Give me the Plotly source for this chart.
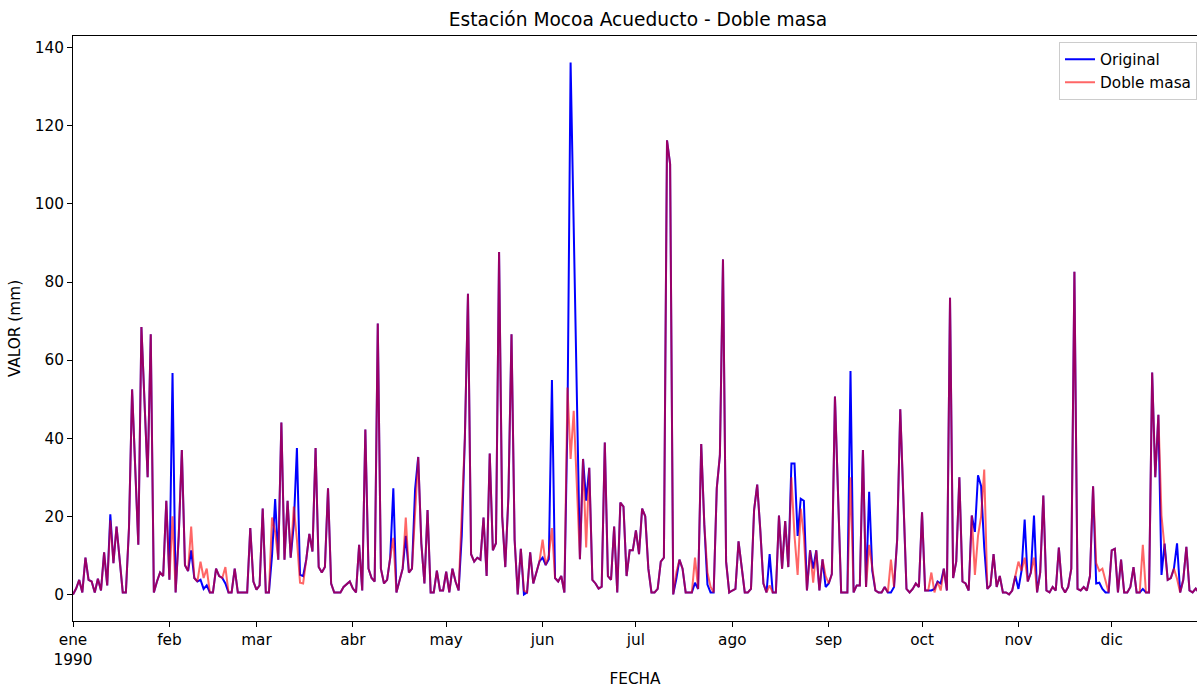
import pandas as pd
import plotly.graph_objects as go

fechas = pd.date_range("1990-01-01", periods=365, freq="D")

original = [
    # ene
    0, 1.5, 3.7, 0.5, 9.4, 3.7, 3.3, 0.5, 4, 1, 10.8, 2.3, 20.5, 8, 17.4, 9, 0.5, 0.5, 17, 52.5,
    30, 12.7, 68.5, 50, 30, 66.6, 0.5, 3.3, 5.6, 4.7, 24,
    # feb
    3.75, 56.7, 0.5, 15, 37, 7.5, 6, 11.3, 4.2, 3.3, 3.75, 1.4, 2.3, 0.5, 0.5, 6.6, 4.7, 4.2, 2.8, 0.5,
    0.5, 6.6, 0.5, 0.5, 0.5, 0.5, 17, 3.3,
    # mar
    1.2, 2.3, 22, 0.5, 0.5, 10, 24.4, 8.9, 44, 8.9, 24, 9.4, 18, 37.5, 5, 4.7, 8.9, 15.5, 11, 37.5,
    7, 5.6, 7, 27.2, 2.8, 0.5, 0.5, 0.5, 1.9, 2.5, 3.3,
    # abr
    1.5, 0.5, 12.7, 1, 42.2, 6.6, 4.2, 3.3, 69.4, 6.6, 2.8, 3.75, 9.4, 27.2, 0.5, 3.75, 6.6, 15, 5.6, 6.6,
    27, 35.2, 13.1, 2.8, 21.6, 0.5, 0.5, 6.1, 1, 1,
    # may
    5.8, 0.5, 6.6, 3.3, 1, 15, 40, 77, 10.3, 8.4, 9.4, 8.9, 19.7, 4.7, 36.1, 11.3, 13.1, 87.7, 20, 7,
    25, 66.6, 14, 0, 11.7, 0, 0.5, 10.8, 2.8, 5.6, 8.5,
    # jun
    9.4, 7.5, 9, 54.9, 4.2, 3.3, 4.7, 0.5, 45, 136.2, 94, 50, 9, 34.7, 24, 32.4, 3.75, 2.8, 1.5, 2,
    38.9, 4.7, 3.75, 17.4, 0.5, 23.5, 22.5, 4.7, 11.3, 11.3,
    # jul
    16.4, 10.3, 22, 20, 6.6, 0.5, 0.5, 1.4, 8.4, 9.4, 116.3, 110.2, 0, 4, 8.9, 6.6, 0.5, 0.5, 0.5, 3,
    1.4, 38.5, 17.8, 2.5, 0.5, 0.5, 27.2, 35.6, 85.8, 8.4, 0.5,
    # ago
    1, 1.4, 13.6, 7, 0.5, 0.5, 1.4, 21.6, 28.1, 16.4, 2.8, 0.5, 10.3, 0.5, 0.5, 20.2, 6.6, 18.8, 7, 33.5,
    33.5, 15, 24.5, 24, 1, 11.3, 6.6, 11.3, 1, 9, 1.9,
    # sep
    2.8, 5.2, 50.7, 25, 0.5, 0.5, 0.5, 57.2, 0.5, 2.3, 2.3, 37, 1.9, 26.3, 6.1, 1, 0.5, 0.5, 1.9, 0.5,
    0.5, 1.9, 14, 47.4, 25, 1.4, 0.5, 1.4, 2.8, 1.9,
    # oct
    21, 1, 1, 1, 1.4, 3.3, 2.8, 6.6, 1, 76, 4.2, 8.4, 30, 3.3, 2.8, 1, 20.2, 16, 30.5, 27.7,
    12, 1.4, 2.3, 10.3, 1.9, 4.7, 0.5, 0.5, 0, 1, 4.7,
    # nov
    1.4, 6.1, 19.2, 3.3, 5.6, 20.2, 0.5, 5.6, 25.3, 1, 0.5, 1.9, 1, 12, 1.9, 0.5, 1.9, 6.6, 82.6, 1.4,
    1, 1.9, 1, 4.7, 27.7, 2.8, 3, 1.4, 0.5, 0.5,
    # dic
    11.3, 11.7, 0.5, 8.9, 0.5, 0.5, 1.9, 7, 0.5, 0.5, 1.4, 0.5, 0.5, 56.8, 30, 46, 5, 13, 3.75, 4.2,
    6.6, 13.1, 0.5, 3.75, 12.2, 1, 0.5, 1.5, 0.5, 2, 0.5,
]

doble_masa = [
    # ene
    0, 1.5, 3.7, 0.5, 9.4, 3.7, 3.3, 0.5, 4, 1, 10.8, 2.3, 19, 8, 17.4, 9, 0.5, 0.5, 17, 52.5,
    30, 12.7, 68.5, 50, 30, 66.6, 0.5, 3.3, 5.6, 4.7, 24,
    # feb
    3.75, 20, 0.5, 15, 37, 7.5, 6, 17.4, 4.2, 3.3, 8.4, 4.2, 6.6, 0.5, 0.5, 6.6, 4.7, 4.2, 7, 0.5,
    0.5, 6.6, 0.5, 0.5, 0.5, 0.5, 17, 3.3,
    # mar
    1.2, 2.3, 22, 0.5, 0.5, 19.7, 16, 8.9, 44, 8.9, 24, 9.4, 22.5, 14, 3, 2.8, 8.9, 15.5, 11, 37.5,
    7, 5.6, 7, 27.2, 2.8, 0.5, 0.5, 0.5, 1.9, 2.5, 3.3,
    # abr
    1.5, 0.5, 12.7, 1, 42.2, 6.6, 4.2, 3.3, 69.4, 6.6, 2.8, 3.75, 9.4, 14.5, 0.5, 3.75, 6.6, 19.7, 5.6, 6.6,
    20, 35.2, 13.1, 2.8, 21.6, 0.5, 0.5, 6.1, 1, 1,
    # may
    5.8, 0.5, 6.6, 3.3, 1, 21.6, 40, 77, 10.3, 8.4, 9.4, 8.9, 19.7, 4.7, 36.1, 11.3, 13.1, 87.7, 20, 7,
    25, 66.6, 14, 0, 11.7, 1, 0.5, 10.8, 2.8, 5.6, 8.5,
    # jun
    14, 7.5, 10, 17, 4.2, 3.3, 4.7, 0.5, 53, 34.7, 47, 28, 9, 34.7, 12, 32.4, 3.75, 2.8, 1.5, 2,
    38.9, 4.7, 3.75, 17.4, 0.5, 23.5, 22.5, 4.7, 11.3, 11.3,
    # jul
    16.4, 10.3, 22, 20, 6.6, 0.5, 0.5, 1.4, 8.4, 9.4, 116.3, 110.2, 0, 5.6, 8.9, 6.6, 0.5, 0.5, 0.5, 9.4,
    1.4, 38.5, 17.8, 5.6, 2, 0.5, 27.2, 35.6, 85.8, 8.4, 0.5,
    # ago
    1, 1.4, 13.6, 7, 0.5, 0.5, 1.4, 21.6, 28.1, 16.4, 2.8, 0.5, 2.3, 0.5, 0.5, 20.2, 6.6, 18.8, 7, 30,
    15, 5, 22, 15, 1, 11.3, 3, 11.3, 1, 9, 4.7,
    # sep
    2.8, 5.2, 50.7, 25, 0.5, 0.5, 0.5, 30, 0.5, 2.3, 2.3, 37, 1.9, 12.7, 6.1, 1, 0.5, 0.5, 1.9, 0.5,
    8.9, 1.9, 14, 47.4, 25, 1.4, 0.5, 1.4, 2.8, 1.9,
    # oct
    21, 1, 1, 5.6, 0.5, 3.3, 1, 6.6, 1, 76, 4.2, 8.4, 30, 3.3, 2.8, 1, 20.2, 5, 15, 20,
    32, 1.4, 2.3, 10.3, 1.9, 4.7, 0.5, 0.5, 0, 1, 4.7,
    # nov
    8.4, 6.1, 9.4, 3.3, 5.6, 9.4, 0.5, 5.6, 25.3, 1, 0.5, 1.9, 1, 12, 1.9, 0.5, 1.9, 6.6, 82.6, 1.4,
    1, 1.9, 1, 4.7, 27.7, 8, 6, 6.6, 3.3, 0.5,
    # dic
    11.3, 11.7, 0.5, 8.9, 0.5, 0.5, 1.9, 7, 0.5, 0.5, 12.7, 0.5, 0.5, 56.8, 30, 46, 20.2, 12, 3.75, 4.2,
    6.6, 4, 0.5, 3.75, 12.2, 1, 0.5, 1.5, 0.5, 2, 0.5,
]

assert len(original) == 365 and len(doble_masa) == 365

mes_inicio = pd.date_range("1990-01-01", periods=12, freq="MS")
mes_texto = ["ene<br>1990", "feb", "mar", "abr", "may", "jun", "jul", "ago", "sep", "oct", "nov", "dic"]

FONT = "DejaVu Sans"
FS = 15.3

fig = go.Figure()
fig.add_trace(go.Scatter(x=fechas, y=original, mode="lines", name="Original",
                         line=dict(color="rgb(0,0,255)", width=2)))
fig.add_trace(go.Scatter(x=fechas, y=doble_masa, mode="lines", name="Doble masa",
                         line=dict(color="rgba(255,0,0,0.6)", width=2)))

fig.update_layout(
    width=1197, height=688,
    margin=dict(l=73, r=0, t=36, b=67),
    paper_bgcolor="white", plot_bgcolor="white",
    font=dict(family=FONT, size=FS, color="black"),
    title=dict(text="Estación Mocoa Acueducto - Doble masa", x=0.533, xref="container",
               xanchor="center", y=0.972, yref="container", yanchor="middle",
               font=dict(family=FONT, size=18.6, color="black")),
    legend=dict(x=1.0, xanchor="right", y=0.99, yanchor="top",
                bgcolor="rgba(255,255,255,0.8)", bordercolor="#cccccc", borderwidth=1,
                font=dict(family=FONT, size=FS, color="black")),
    showlegend=True,
)

fig.update_xaxes(
    range=["1990-01-01", "1990-12-28 10:00"],
    tickmode="array", tickvals=mes_inicio, ticktext=mes_texto,
    ticks="outside", ticklen=5, tickcolor="black", tickwidth=1,
    showline=True, linecolor="black", linewidth=1, mirror=True,
    showgrid=False, zeroline=False,
    title=dict(text="FECHA", font=dict(family=FONT, size=FS, color="black"), standoff=8),
    tickfont=dict(family=FONT, size=FS, color="black"),
)
fig.update_yaxes(
    range=[-6.81, 143.01],
    tickmode="array", tickvals=[0, 20, 40, 60, 80, 100, 120, 140],
    ticks="outside", ticklen=5, tickcolor="black", tickwidth=1,
    showline=True, linecolor="black", linewidth=1, mirror=False,
    showgrid=False, zeroline=False,
    title=dict(text="VALOR (mm)", font=dict(family=FONT, size=FS, color="black"), standoff=10),
    tickfont=dict(family=FONT, size=FS, color="black"),
)

fig.write_html("out.html", config={"displayModeBar": False},
               post_script="document.body.style.margin='0';")
